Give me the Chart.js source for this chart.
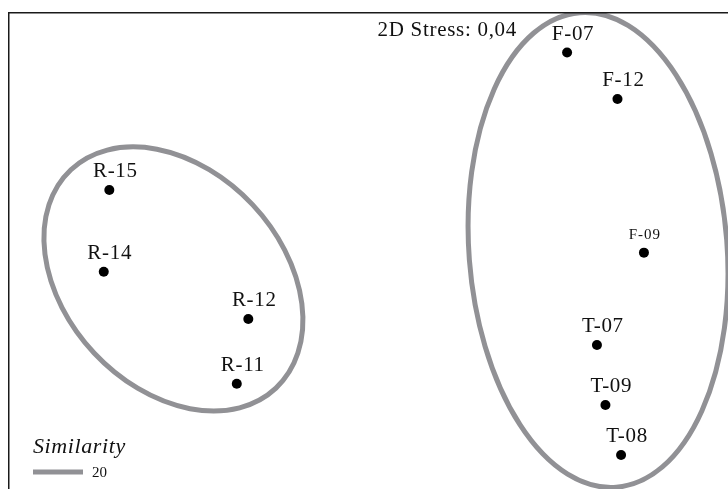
<!DOCTYPE html>
<html>
<head>
<meta charset="utf-8">
<script src="https://cdn.jsdelivr.net/npm/chart.js@4/dist/chart.umd.min.js"></script>
<style>
  html, body { margin: 0; padding: 0; background: #fff; }
  #wrap { width: 728px; height: 489px; }
</style>
</head>
<body>
<div id="wrap"><canvas id="nmds" width="728" height="489"></canvas></div>
<script>
// nMDS ordination of samples (2D)
const sampleLabels = ['F-07', 'F-12', 'F-09', 'T-07', 'T-09', 'T-08', 'R-15', 'R-14', 'R-12', 'R-11'];
const mdsX = [1.106, 1.386, 1.533, 1.272, 1.319, 1.406, -1.437, -1.468, -0.665, -0.729];
const mdsY = [1.075, 0.817, -0.037, -0.550, -0.883, -1.161, 0.311, -0.143, -0.406, -0.765];

// Similarity contours (ellipses) in ordination units
const contourCenterX = [-1.081, 1.278];
const contourCenterY = [-0.183, -0.022];
const contourMajor = [0.832, 1.322];
const contourMinor = [0.603, 0.717];
const contourAngle = [-46.8, 94.4]; // degrees, counter-clockwise from the x axis

const similarityLevels = [20];
const stressText = '2D Stress: 0,04';

const SERIF = '"Liberation Serif", "Times New Roman", serif';
const CONTOUR_COLOR = '#919195';
const smallLabels = new Set(['F-09']);

const points = sampleLabels.map((name, i) => ({ x: mdsX[i], y: mdsY[i], name }));

const contourPlugin = {
  id: 'contours',
  beforeDatasetsDraw(chart) {
    const { ctx, chartArea, scales } = chart;
    const xs = scales.x, ys = scales.y;
    ctx.save();
    ctx.beginPath();
    ctx.rect(chartArea.left, chartArea.top, chartArea.right - chartArea.left, chartArea.bottom - chartArea.top);
    ctx.clip();
    ctx.strokeStyle = CONTOUR_COLOR;
    ctx.lineWidth = 5;
    for (let i = 0; i < contourCenterX.length; i++) {
      const cx = xs.getPixelForValue(contourCenterX[i]);
      const cy = ys.getPixelForValue(contourCenterY[i]);
      const ra = xs.getPixelForValue(contourCenterX[i] + contourMajor[i]) - cx;
      const rb = xs.getPixelForValue(contourCenterX[i] + contourMinor[i]) - cx;
      ctx.beginPath();
      ctx.ellipse(cx, cy, ra, rb, -contourAngle[i] * Math.PI / 180, 0, Math.PI * 2);
      ctx.stroke();
    }
    ctx.restore();
  }
};

const annotatePlugin = {
  id: 'annotate',
  afterDatasetsDraw(chart) {
    const { ctx, chartArea } = chart;
    const meta = chart.getDatasetMeta(0);
    ctx.save();
    ctx.fillStyle = '#111';
    ctx.textAlign = 'center';
    ctx.textBaseline = 'alphabetic';
    meta.data.forEach((el, i) => {
      const name = sampleLabels[i];
      if (smallLabels.has(name)) {
        ctx.font = '15px ' + SERIF;
        ctx.letterSpacing = '1px';
        ctx.fillText(name, el.x + 1, el.y - 14);
      } else {
        ctx.font = '21px ' + SERIF;
        ctx.letterSpacing = '0.7px';
        ctx.fillText(name, el.x + 6, el.y - 13);
      }
    });

    // stress value
    ctx.textAlign = 'right';
    ctx.font = '21px ' + SERIF;
    ctx.letterSpacing = '0.7px';
    ctx.fillText(stressText, 517, 36);

    // frame
    ctx.strokeStyle = '#1a1a1a';
    ctx.lineWidth = 1.5;
    ctx.beginPath();
    ctx.moveTo(chartArea.left + 0.75, chartArea.bottom + 2);
    ctx.lineTo(chartArea.left + 0.75, chartArea.top + 0.75);
    ctx.lineTo(chartArea.right + 2, chartArea.top + 0.75);
    ctx.stroke();

    // similarity legend
    ctx.textAlign = 'left';
    ctx.letterSpacing = '0.6px';
    ctx.font = 'italic 22px ' + SERIF;
    ctx.fillText('Similarity', 33, 453);
    similarityLevels.forEach((lvl, k) => {
      const y = 472 + k * 18;
      ctx.strokeStyle = CONTOUR_COLOR;
      ctx.lineWidth = 5;
      ctx.beginPath();
      ctx.moveTo(33, y);
      ctx.lineTo(83, y);
      ctx.stroke();
      ctx.letterSpacing = '0px';
      ctx.font = '15px ' + SERIF;
      ctx.fillText(String(lvl), 92, y + 5);
    });
    ctx.restore();
  }
};

new Chart(document.getElementById('nmds'), {
  type: 'scatter',
  data: {
    datasets: [{
      label: 'Samples',
      data: points,
      pointRadius: 5,
      pointHoverRadius: 5,
      pointBackgroundColor: '#000',
      pointBorderWidth: 0,
      borderColor: '#000'
    }]
  },
  options: {
    responsive: false,
    animation: false,
    events: [],
    layout: { autoPadding: false, padding: { left: 8, top: 12, right: 0, bottom: 0 } },
    plugins: {
      legend: { display: false },
      tooltip: { enabled: false }
    },
    scales: {
      x: { type: 'linear', min: -2, max: 2, display: false },
      y: { type: 'linear', min: -1.35, max: 1.3, display: false }
    }
  },
  plugins: [contourPlugin, annotatePlugin]
});
</script>
</body>
</html>
